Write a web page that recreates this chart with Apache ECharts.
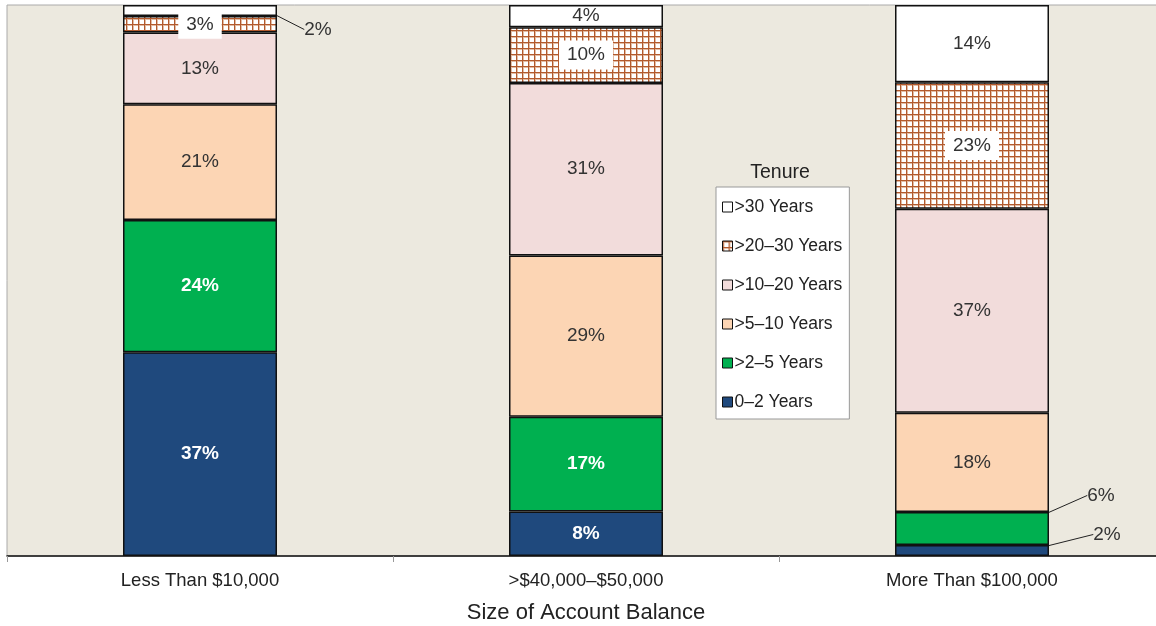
<!DOCTYPE html>
<html><head><meta charset="utf-8">
<script src="https://cdn.jsdelivr.net/npm/echarts@6/dist/echarts.min.js"></script>
<style>html,body{margin:0;padding:0;background:#fff}#c{width:1156px;height:626px}</style>
</head><body><div id="c"></div>
<script>
const categories = ['Less Than $10,000', '>$40,000\u2013$50,000', 'More Than $100,000'];
const seriesNames = ['0\u20132 Years', '>2\u20135 Years', '>5\u201310 Years', '>10\u201320 Years', '>20\u201330 Years', '>30 Years'];
const v0to2   = [37, 8, 2];
const v2to5   = [24, 17, 6];
const v5to10  = [21, 29, 18];
const v10to20 = [13, 31, 37];
const v20to30 = [3, 10, 23];
const v30plus = [2, 4, 14];
const allValues = [v0to2, v2to5, v5to10, v10to20, v20to30, v30plus];

// hatch pattern for >20-30
const pc = document.createElement('canvas');
pc.width = 6; pc.height = 6;
const px = pc.getContext('2d');
px.fillStyle = '#ffffff'; px.fillRect(0,0,6,6);
px.fillStyle = '#e2bca4'; px.fillRect(0,0,6,2); px.fillRect(0,0,2,6);
px.fillStyle = '#b25a2e'; px.fillRect(0,0,6,1); px.fillRect(0,0,1,6);

const colors = ['#1f497d', '#00b050', '#fcd5b4', '#f2dcdb', {image: pc, repeat: 'repeat'}, '#ffffff'];
const labelColors = ['#ffffff', '#ffffff', '#333333', '#333333', '#333333', '#333333'];
const labelBold = [true, true, false, false, false, false];

const totals = categories.map((c, i) => allValues.reduce((s, arr) => s + arr[i], 0));

// outside labels: [seriesIndex, dataIndex, dx, dy]
const outside = [[5, 0, 118, 19], [1, 2, 129, -33], [0, 2, 135, -16]];

const FONT = 'Liberation Sans';
const series = seriesNames.map((name, si) => ({
  name,
  type: 'bar',
  stack: 'tot',
  barWidth: 154,
  itemStyle: {color: colors[si], borderColor: '#111', borderWidth: 1.5},
  data: allValues[si].map((v, di) => {
    const isOut = outside.some(o => o[0] === si && o[1] === di);
    const d = {value: v / totals[di] * 100, raw: v};
    if (isOut) d.label = {color: '#333', fontWeight: 'normal', backgroundColor: 'transparent'};
    return d;
  }),
  label: {
    show: true,
    position: 'inside',
    formatter: p => p.data.raw + '%',
    fontFamily: FONT,
    fontSize: 19,
    color: labelColors[si],
    fontWeight: labelBold[si] ? 'bold' : 'normal',
    backgroundColor: si === 4 ? '#ffffff' : 'transparent',
    padding: si === 4 ? [5, 8] : 0
  },
  labelLine: {show: true, lineStyle: {color: '#222', width: 1}},
  labelLayout: p => {
    const o = outside.find(o => o[0] === p.seriesIndex && o[1] === p.dataIndex);
    if (o) return {dx: o[2], dy: o[3]};
    return {};
  }
}));

const chart = echarts.init(document.getElementById('c'));
chart.setOption({
  animation: false,
  title: {
    text: 'Tenure', left: 775, top: 158, textAlign: 'center',
    textStyle: {fontFamily: FONT, fontSize: 19.5, fontWeight: 'normal', color: '#222'}
  },
  legend: {
    data: seriesNames.slice().reverse(),
    orient: 'vertical',
    left: 716, top: 187,
    backgroundColor: '#ffffff',
    borderColor: '#999',
    borderWidth: 1,
    borderRadius: 0,
    padding: [11, 7, 8, 6],
    itemGap: 21,
    itemWidth: 10,
    itemHeight: 10,
    icon: 'rect',
    itemStyle: {borderColor: '#111', borderWidth: 1},
    textStyle: {fontFamily: FONT, fontSize: 17.5, color: '#222', lineHeight: 17, padding: [0, 0, 0, -3]}
  },
  grid: {
    left: 7, top: 5, width: 1158, height: 551,
    outerBoundsMode: 'none', containLabel: false,
    show: true, backgroundColor: '#ece9df', borderColor: '#aaa', borderWidth: 1
  },
  xAxis: {
    type: 'category',
    data: categories,
    axisLine: {lineStyle: {color: '#111', width: 1.5}},
    axisTick: {show: true, length: 6, lineStyle: {color: '#999'}},
    axisLabel: {fontFamily: FONT, fontSize: 18.5, color: '#222', margin: 15},
    name: 'Size of Account Balance',
    nameLocation: 'middle',
    nameGap: 46,
    nameTextStyle: {fontFamily: FONT, fontSize: 22, color: '#222'}
  },
  yAxis: {type: 'value', show: false, min: 0, max: 100, splitLine: {show: false}},
  series
});
</script></body></html>
